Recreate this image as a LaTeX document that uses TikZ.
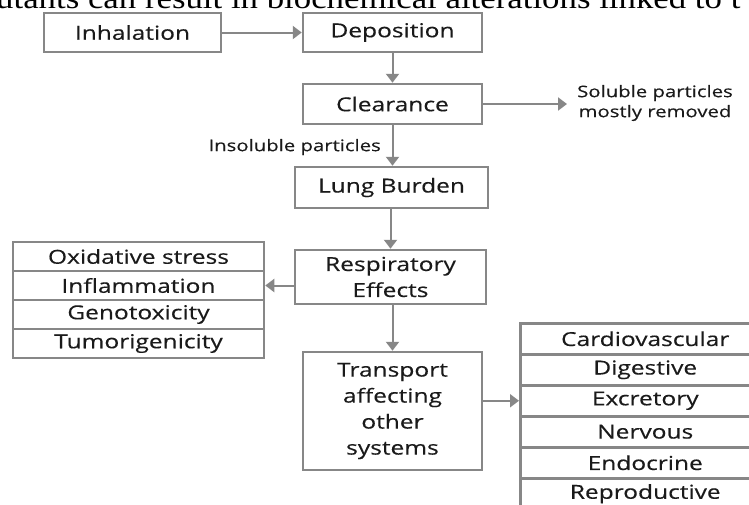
\documentclass[tikz,border=0pt]{standalone}
\usepackage{fontspec}
\setmainfont{Open Sans}[FakeStretch=1.27,FakeBold=0.3]
\newfontfamily\titlefont{Liberation Serif}[FakeStretch=1.16]
\usetikzlibrary{arrows.meta}
\definecolor{linegray}{HTML}{878787}
\definecolor{textdark}{HTML}{1A1A1A}
\tikzset{
  box/.style={draw=linegray, line width=2.5pt, fill=white, inner sep=0pt, align=center,
    text=textdark, font=\fontsize{19.3}{26}\selectfont},
  cell/.style={box, minimum height=29pt, minimum width=251pt},
  rcell/.style={box, minimum height=31pt, minimum width=250pt, anchor=north west},
  lbl/.style={text=textdark, font=\fontsize{16}{20}\selectfont, inner sep=0pt},
  flow/.style={draw=linegray, line width=2pt, -{Triangle[length=9pt,width=13pt]}, color=linegray}
}
\begin{document}
\begin{tikzpicture}[x=1pt,y=-1pt]
\clip (0,0) rectangle (749,504);
\fill[white] (0,0) rectangle (749,504);
% cut-off page text
\node[anchor=base west, inner sep=0pt, text=black, font=\titlefont\fontsize{30}{32}\selectfont] (title) at (-4,8.5) {utants can result in biochemical alterations linked to t};
% main chain
\node[box, minimum width=177pt, minimum height=39pt] (inh) at (132.5,32.5) {Inhalation};
\node[box, minimum width=179pt, minimum height=39pt] (dep) at (392.5,32.5) {Deposition};
\node[box, minimum width=179pt, minimum height=40pt] (clr) at (392.5,104) {Clearance};
\node[box, minimum width=193pt, minimum height=41pt] (lung) at (391.5,187.5) {Lung Burden};
\node[box, minimum width=191pt, minimum height=54pt] (resp) at (390.5,277) {Respiratory\\Effects};
\node[box, minimum width=179pt, minimum height=118pt] (trans) at (392.5,411) {Transport\\affecting\\other\\systems};
% side texts
\coordinate (solend) at (567,104);
\node[lbl, anchor=west, align=center] (sol) at (577,103) {Soluble particles\\mostly removed};
\node[lbl, anchor=east] (insol) at (381,147) {Insoluble particles};
% left list
\node[cell] (l1) at (138.5,256.5) {Oxidative stress};
\node[cell] (l2) at (138.5,285.5) {Inflammation};
\node[cell] (l3) at (138.5,314.5) {Genotoxicity};
\node[cell] (l4) at (138.5,343.5) {Tumorigenicity};
% right list
\node[rcell] (r1) at (519,322) {Cardiovascular};
\node[rcell] (r2) at (519,353) {Digestive};
\node[rcell] (r3) at (519,384) {Excretory};
\node[rcell] (r4) at (519,415) {Nervous};
\node[rcell] (r5) at (519,446) {Endocrine};
\node[rcell] (r6) at (519,477) {Reproductive};
% connectors
\draw[flow] (inh) -- (dep);
\draw[flow] (dep) -- (clr);
\draw[flow] (clr) -- (solend);
\draw[flow] (clr.south) -- (lung.north -| clr.south);
\draw[flow] (lung.south -| resp.north) -- (resp.north);
\draw[flow] (resp.west |- l2.east) -- (l2.east);
\draw[flow] (resp.south -| trans.north) -- (trans.north);
\draw[flow] (trans.east |- r3.west) -- (r3.west);
\end{tikzpicture}
\end{document}
